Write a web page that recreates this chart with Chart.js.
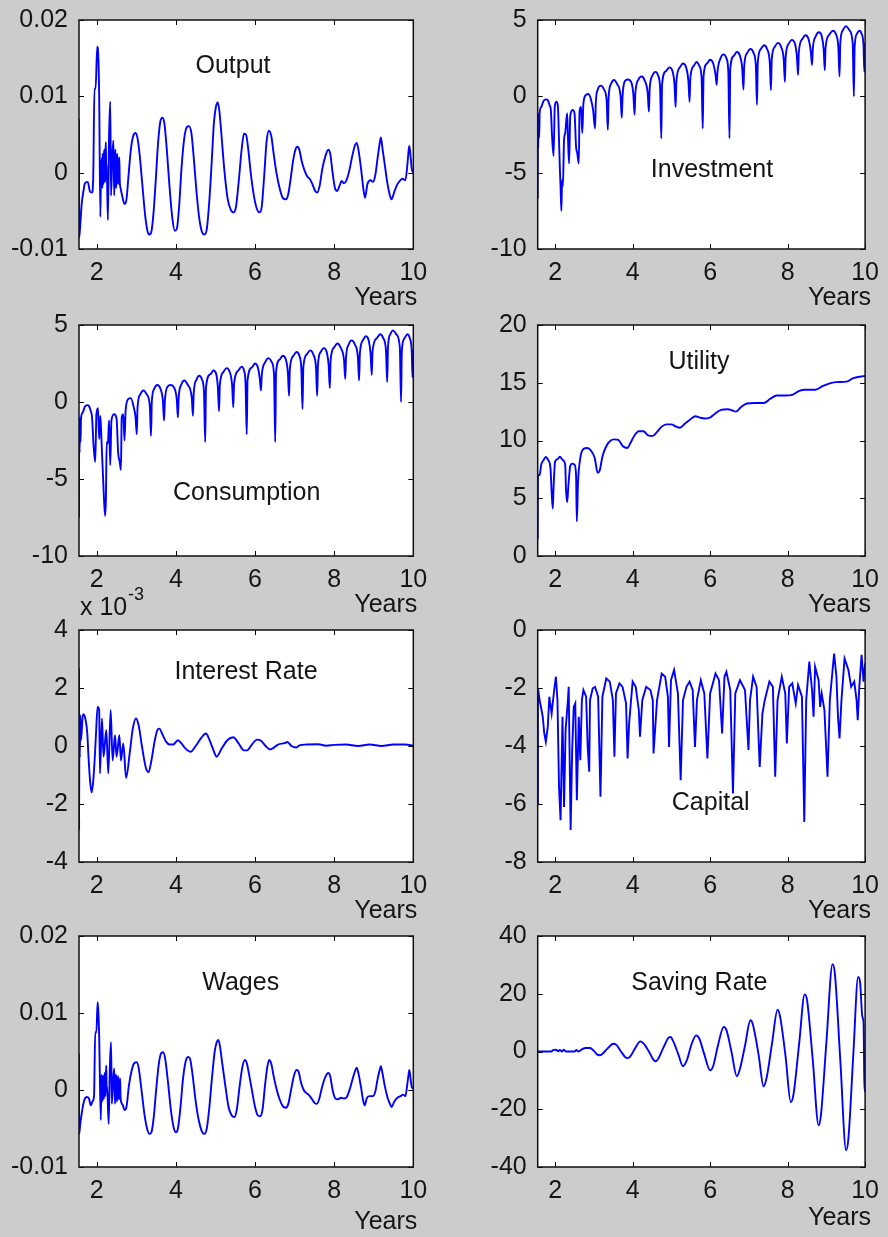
<!DOCTYPE html>
<html><head><meta charset="utf-8">
<script src="https://cdn.jsdelivr.net/npm/chart.js@4.4.0/dist/chart.umd.min.js"></script>
<style>
html,body{margin:0;padding:0;background:#cccccc;}
#wrap{position:relative;width:888px;height:1237px;overflow:hidden;background:#cccccc;}
#wrap canvas{position:absolute;}
</style></head><body><div id="wrap"></div>
<script>
// ---------- data (x in years, y) ----------
const xTicks = [2, 4, 6, 8, 10];

const outputPts = [[1.55,0.0070],[1.555,-0.0085],[1.58,-0.0070],[1.62,-0.0040],[1.66,-0.0025],[1.70,-0.0014],[1.77,-0.0012],[1.83,-0.0025],[1.88,-0.0026],[1.91,-0.0005],[1.94,0.0110],[1.97,0.0110],[2.01,0.0165],[2.04,0.0150],[2.06,0.0100],[2.09,-0.0058],[2.11,0.0017],[2.12,-0.0012],[2.13,0.0020],[2.14,-0.0020],[2.15,0.0025],[2.16,-0.0005],[2.17,-0.0015],[2.18,0.0022],[2.19,0.0030],[2.20,-0.0012],[2.21,-0.0010],[2.22,0.0028],[2.23,0.0040],[2.24,-0.0005],[2.25,0.0010],[2.28,-0.0062],[2.31,0.0048],[2.34,0.0093],[2.36,-0.0030],[2.39,0.0020],[2.42,0.0042],[2.44,-0.0030],[2.46,0.0015],[2.47,0.0030],[2.48,-0.0005],[2.49,-0.0020],[2.51,0.0018],[2.52,0.0025],[2.53,-0.0010],[2.54,-0.0015],[2.56,0.0015],[2.57,0.0020],[2.58,-0.0010],[2.60,-0.0020],[2.64,-0.0030],[2.70,-0.0041],[2.75,-0.0035],[2.80,-0.0005],[2.86,0.0030],[2.92,0.0048],[2.98,0.0052],[3.03,0.0045],[3.08,0.0025],[3.15,-0.0015],[3.22,-0.0055],[3.28,-0.0076],[3.33,-0.0081],[3.38,-0.0077],[3.43,-0.0055],[3.49,-0.0010],[3.55,0.0040],[3.61,0.0068],[3.66,0.0072],[3.71,0.0064],[3.77,0.0030],[3.84,-0.0020],[3.91,-0.0060],[3.97,-0.0076],[4.02,-0.0074],[4.08,-0.0045],[4.14,0.0005],[4.21,0.0045],[4.28,0.0060],[4.33,0.0061],[4.39,0.0052],[4.45,0.0020],[4.52,-0.0025],[4.59,-0.0060],[4.66,-0.0078],[4.72,-0.0081],[4.78,-0.0074],[4.84,-0.0040],[4.90,0.0010],[4.96,0.0065],[5.01,0.0086],[5.06,0.0092],[5.10,0.0080],[5.15,0.0050],[5.23,0.0000],[5.31,-0.0035],[5.39,-0.0049],[5.46,-0.0052],[5.52,-0.0044],[5.59,-0.0010],[5.66,0.0030],[5.72,0.0051],[5.77,0.0050],[5.83,0.0030],[5.89,0.0000],[5.97,-0.0030],[6.05,-0.0048],[6.11,-0.0052],[6.17,-0.0044],[6.23,-0.0005],[6.29,0.0040],[6.35,0.0055],[6.41,0.0048],[6.47,0.0025],[6.54,0.0000],[6.62,-0.0020],[6.70,-0.0033],[6.78,-0.0035],[6.84,-0.0028],[6.90,-0.0008],[6.96,0.0015],[7.02,0.0030],[7.07,0.0034],[7.12,0.0030],[7.18,0.0015],[7.25,0.0003],[7.32,-0.0005],[7.38,-0.0008],[7.45,-0.0015],[7.52,-0.0024],[7.57,-0.0026],[7.63,-0.0018],[7.70,0.0005],[7.78,0.0022],[7.85,0.0030],[7.90,0.0025],[7.96,0.0000],[8.02,-0.0020],[8.08,-0.0024],[8.13,-0.0018],[8.19,-0.0011],[8.25,-0.0014],[8.31,-0.0010],[8.38,0.0002],[8.45,0.0020],[8.52,0.0035],[8.57,0.0039],[8.62,0.0028],[8.68,0.0005],[8.74,-0.0022],[8.78,-0.0033],[8.84,-0.0015],[8.92,-0.0010],[8.98,-0.0012],[9.04,-0.0003],[9.10,0.0020],[9.15,0.0038],[9.18,0.0046],[9.22,0.0032],[9.28,0.0010],[9.34,-0.0012],[9.40,-0.0028],[9.45,-0.0035],[9.52,-0.0025],[9.60,-0.0015],[9.67,-0.0010],[9.73,-0.0008],[9.80,-0.0010],[9.85,0.0010],[9.88,0.0028],[9.90,0.0035],[9.93,0.0022],[9.96,0.0005],[10.0,0.0000]];

const investmentPts = [[1.55,-6.7],[1.555,-1.1],[1.565,-3.4],[1.575,-1.3],[1.59,-2.7],[1.60,-1.1],[1.64,-0.7],[1.70,-0.3],[1.76,-0.2],[1.81,-0.25],[1.86,-0.6],[1.89,-0.9],[1.92,-2.6],[1.96,-3.9],[1.99,-0.7],[2.03,-0.35],[2.07,-0.6],[2.10,-2.85],[2.12,-4.6],[2.14,-5.9],[2.16,-7.5],[2.18,-5.5],[2.20,-5.9],[2.23,-2.85],[2.26,-2.4],[2.31,-1.1],[2.33,-2.6],[2.36,-4.4],[2.39,-1.3],[2.45,-0.9],[2.50,-1.1],[2.54,-3.3],[2.57,-3.7],[2.61,-4.4],[2.63,-1.0],[2.67,-0.7],[2.70,-2.4],[2.73,-0.45],[2.80,0.1],[2.86,0.15],[2.93,-0.25],[2.98,-0.9],[3.03,-2.1],
[3.05,-0.4],[3.10,0.45],[3.18,0.7],[3.26,0.45],[3.33,-0.3],[3.36,-2.2],
[3.38,-0.1],[3.44,0.8],[3.52,1.07],[3.60,0.8],[3.69,0.0],[3.72,-1.4],
[3.74,0.0],[3.80,1.0],[3.88,1.1],[3.96,0.95],[4.02,0.1],[4.05,-1.2],
[4.07,0.2],[4.15,1.1],[4.23,1.3],[4.31,1.05],[4.39,0.2],[4.42,-1.0],
[4.44,0.5],[4.51,1.35],[4.59,1.6],[4.66,1.35],[4.71,0.5],[4.74,-2.75],
[4.76,0.8],[4.86,1.65],[4.95,1.9],[5.03,1.65],[5.08,0.8],[5.11,-0.7],
[5.13,1.0],[5.22,1.9],[5.30,2.15],[5.38,1.9],[5.44,1.0],[5.47,-0.35],
[5.49,1.2],[5.58,2.0],[5.65,2.25],[5.72,2.0],[5.78,1.2],[5.81,-2.1],
[5.83,1.3],[5.92,2.15],[6.00,2.4],[6.08,2.15],[6.14,1.4],[6.17,0.75],
[6.19,1.6],[6.27,2.5],[6.35,2.75],[6.42,2.5],[6.47,1.6],[6.50,-2.75],
[6.52,1.8],[6.61,2.65],[6.69,2.9],[6.77,2.65],[6.83,1.8],[6.86,0.45],
[6.88,2.0],[6.96,2.85],[7.04,3.1],[7.12,2.85],[7.18,2.0],[7.21,-0.55],
[7.23,2.2],[7.31,3.1],[7.39,3.35],[7.47,3.1],[7.54,2.2],[7.57,0.4],
[7.59,2.4],[7.67,3.25],[7.75,3.5],[7.83,3.25],[7.90,2.4],[7.93,0.95],
[7.95,2.6],[8.03,3.45],[8.11,3.7],[8.19,3.45],[8.24,2.6],[8.27,1.4],
[8.29,2.9],[8.38,3.75],[8.46,4.0],[8.54,3.75],[8.60,2.9],[8.63,2.05],
[8.65,3.1],[8.73,3.95],[8.81,4.2],[8.88,3.95],[8.93,3.1],[8.96,1.7],
[8.98,3.2],[9.08,4.05],[9.17,4.3],[9.25,4.05],[9.31,3.2],[9.34,1.3],
[9.36,3.5],[9.43,4.35],[9.51,4.6],[9.59,4.35],[9.68,3.5],[9.71,0.0],
[9.73,3.2],[9.79,4.1],[9.85,4.3],[9.91,4.1],[9.96,3.3],[9.98,1.6],[10.0,3.5]];

const consumptionPts = [[1.55,-7.5],[1.555,-1.0],[1.565,-3.3],[1.575,-1.2],[1.59,-2.6],[1.60,-1.1],[1.64,-0.7],[1.70,-0.3],[1.76,-0.2],[1.80,-0.25],[1.85,-0.6],[1.88,-1.0],[1.92,-2.9],[1.96,-3.9],[1.99,-0.8],[2.03,-0.4],[2.06,-2.4],[2.09,-0.9],[2.12,-2.6],[2.15,-4.4],[2.18,-6.2],[2.21,-7.4],[2.23,-6.3],[2.25,-2.6],[2.28,-2.7],[2.31,-1.2],[2.34,-4.1],[2.37,-1.2],[2.44,-0.8],[2.50,-1.1],[2.54,-3.3],[2.58,-3.9],[2.61,-4.4],[2.63,-1.0],[2.67,-0.8],[2.70,-2.5],[2.73,-0.5],[2.80,0.2],[2.86,0.25],[2.93,-0.3],[2.98,-1.0],[3.01,-2.1],
[3.03,-0.35],[3.10,0.5],[3.18,0.75],[3.26,0.5],[3.34,-0.25],[3.37,-2.2],
[3.39,0.0],[3.45,0.85],[3.53,1.1],[3.61,0.85],[3.67,0.1],[3.70,-1.2],
[3.72,0.05],[3.79,1.0],[3.87,1.1],[3.95,0.95],[4.02,0.2],[4.05,-1.0],
[4.07,0.3],[4.14,1.15],[4.21,1.4],[4.29,1.15],[4.40,0.3],[4.43,-0.9],
[4.45,0.6],[4.52,1.45],[4.59,1.7],[4.66,1.45],[4.71,0.6],[4.74,-2.6],
[4.76,0.95],[4.87,1.8],[4.95,2.05],[5.02,1.8],[5.06,0.95],[5.09,-0.6],
[5.11,1.1],[5.20,1.95],[5.28,2.2],[5.36,1.95],[5.42,1.1],[5.45,-0.35],
[5.47,1.2],[5.58,2.05],[5.66,2.3],[5.72,2.05],[5.76,1.2],[5.79,-2.1],
[5.81,1.4],[5.92,2.25],[6.00,2.5],[6.07,2.25],[6.12,1.5],[6.15,0.75],
[6.17,1.75],[6.26,2.6],[6.34,2.85],[6.42,2.6],[6.48,1.75],[6.51,-2.6],
[6.53,1.9],[6.62,2.75],[6.70,3.0],[6.78,2.75],[6.83,1.9],[6.86,0.4],
[6.88,2.15],[6.97,3.0],[7.05,3.25],[7.12,3.0],[7.17,2.15],[7.20,-0.45],
[7.22,2.25],[7.31,3.1],[7.39,3.35],[7.47,3.1],[7.54,2.25],[7.57,0.4],
[7.59,2.4],[7.66,3.25],[7.74,3.5],[7.81,3.25],[7.86,2.4],[7.89,0.9],
[7.91,2.7],[8.00,3.55],[8.08,3.8],[8.16,3.55],[8.25,2.7],[8.28,1.5],
[8.30,2.9],[8.37,3.75],[8.44,4.0],[8.52,3.75],[8.60,2.9],[8.63,1.4],
[8.65,3.15],[8.73,4.02],[8.80,4.27],[8.87,4.02],[8.92,3.15],[8.95,1.75],
[8.97,3.3],[9.08,4.15],[9.16,4.4],[9.24,4.15],[9.31,3.3],[9.34,1.3],
[9.36,3.55],[9.42,4.4],[9.49,4.65],[9.57,4.4],[9.66,3.55],[9.69,0.0],
[9.71,3.3],[9.78,4.15],[9.85,4.4],[9.91,4.15],[9.96,3.3],[9.98,1.6],[10.0,3.4]];

const utilityPts = [[1.55,1.45],[1.555,7.0],[1.60,7.0],[1.64,7.9],[1.70,8.3],[1.76,8.57],[1.82,8.3],[1.88,7.6],[1.91,5.5],[1.94,4.1],[1.96,6.0],[2.00,8.2],[2.07,8.4],[2.12,8.6],[2.20,8.3],[2.26,7.9],[2.28,5.8],[2.31,4.66],[2.34,6.0],[2.39,7.8],[2.44,8.0],[2.50,7.9],[2.54,7.0],[2.56,3.0],[2.59,6.3],[2.65,8.5],[2.74,9.3],[2.83,9.35],[2.93,9.1],[3.02,8.5],[3.10,7.2],[3.15,7.4],[3.22,8.6],[3.32,9.5],[3.42,9.95],[3.52,10.1],[3.63,10.05],[3.75,9.5],[3.86,9.35],[3.96,9.9],[4.06,10.5],[4.16,10.8],[4.28,10.8],[4.40,10.45],[4.52,10.4],[4.62,10.7],[4.75,11.2],[4.87,11.4],[5.00,11.4],[5.12,11.2],[5.22,11.1],[5.36,11.5],[5.48,11.8],[5.62,12.1],[5.72,12.0],[5.86,11.9],[5.98,11.95],[6.12,12.3],[6.28,12.65],[6.45,12.7],[6.58,12.6],[6.66,12.5],[6.80,12.9],[6.95,13.2],[7.15,13.25],[7.38,13.25],[7.55,13.6],[7.72,13.9],[7.95,13.9],[8.12,13.95],[8.30,14.3],[8.45,14.4],[8.72,14.4],[8.90,14.7],[9.05,14.9],[9.25,15.05],[9.52,15.1],[9.70,15.4],[10.0,15.6]];

// interest rate in units of 10^-3
const interestPts = [[1.55,2.67],[1.553,-2.9],[1.56,1.06],[1.57,-0.4],[1.585,1.06],[1.60,0.2],[1.65,1.1],[1.70,1.0],[1.76,0.43],[1.79,-0.37],[1.83,-1.2],[1.87,-1.6],[1.91,-1.2],[1.95,-0.37],[1.98,0.43],[2.02,1.35],[2.06,1.24],[2.08,-0.95],[2.13,0.95],[2.17,-0.37],[2.24,0.55],[2.29,-0.95],[2.35,1.24],[2.40,-0.5],[2.46,0.37],[2.50,-0.37],[2.57,0.37],[2.61,-0.5],[2.67,0.09],[2.74,-1.1],[2.84,-0.15],[2.91,0.6],[2.99,0.95],[3.06,0.7],[3.14,0.0],[3.24,-0.75],[3.31,-0.9],[3.38,-0.5],[3.46,0.15],[3.53,0.55],[3.58,0.6],[3.66,0.4],[3.75,0.15],[3.84,0.05],[3.93,0.05],[4.05,0.2],[4.12,0.12],[4.25,-0.1],[4.37,-0.2],[4.50,0.0],[4.65,0.3],[4.76,0.43],[4.85,0.2],[4.95,-0.15],[5.03,-0.37],[5.15,-0.1],[5.30,0.2],[5.45,0.3],[5.58,0.1],[5.72,-0.15],[5.80,-0.15],[5.92,0.05],[6.05,0.22],[6.15,0.18],[6.28,-0.02],[6.38,-0.12],[6.45,-0.08],[6.58,0.05],[6.75,0.1],[6.82,0.14],[6.92,0.0],[7.05,-0.05],[7.12,0.02],[7.30,0.05],[7.60,0.06],[7.80,0.01],[8.00,0.04],[8.30,0.05],[8.60,0.0],[8.90,0.05],[9.20,0.0],[9.50,0.05],[9.80,0.05],[10.0,0.02]];

const capitalPts = [[1.55,-6.0],[1.555,-2.0],[1.60,-2.42],[1.64,-2.70],[1.68,-2.99],[1.72,-3.57],[1.76,-3.85],[1.81,-3.34],[1.85,-2.30],[1.91,-2.88],[1.97,-2.13],[2.02,-1.61],[2.06,-2.42],[2.10,-5.41],[2.14,-6.56],[2.19,-2.99],[2.23,-6.10],[2.27,-3.45],[2.33,-2.42],[2.35,-1.96],[2.40,-6.90],[2.44,-4.14],[2.48,-2.65],[2.52,-2.53],[2.56,-5.87],[2.61,-2.99],[2.65,-4.49],[2.69,-2.42],[2.73,-2.07],[2.80,-2.30],[2.84,-4.03],[2.88,-4.89],[2.90,-2.42],[2.97,-2.01],[3.03,-1.96],[3.11,-2.30],[3.17,-5.75],[3.22,-2.30],[3.32,-1.67],[3.41,-1.78],[3.49,-2.42],[3.53,-4.37],[3.57,-2.19],[3.66,-1.84],[3.74,-1.96],[3.83,-2.53],[3.87,-4.43],[3.91,-3.22],[4.00,-1.78],[4.08,-1.96],[4.16,-2.76],[4.19,-3.68],[4.25,-2.42],[4.35,-1.96],[4.46,-2.07],[4.52,-2.42],[4.54,-4.26],[4.63,-2.42],[4.75,-1.50],[4.84,-1.61],[4.91,-2.30],[4.94,-4.03],[4.99,-1.73],[5.07,-1.38],[5.17,-2.19],[5.24,-5.18],[5.30,-2.42],[5.39,-1.96],[5.47,-1.78],[5.55,-2.07],[5.61,-4.03],[5.66,-2.42],[5.76,-1.73],[5.85,-2.19],[5.93,-4.43],[6.00,-2.19],[6.14,-1.50],[6.23,-1.73],[6.31,-3.57],[6.37,-1.61],[6.42,-1.44],[6.52,-2.07],[6.59,-5.64],[6.65,-2.19],[6.77,-1.73],[6.90,-2.07],[6.99,-4.14],[7.03,-2.42],[7.11,-1.61],[7.20,-1.96],[7.28,-4.72],[7.35,-2.88],[7.41,-2.42],[7.53,-1.78],[7.62,-1.96],[7.68,-5.06],[7.74,-2.42],[7.85,-1.61],[7.94,-2.19],[7.98,-3.91],[8.04,-1.96],[8.12,-1.84],[8.21,-2.53],[8.27,-1.90],[8.37,-2.30],[8.43,-6.62],[8.48,-2.42],[8.56,-1.09],[8.63,-2.07],[8.67,-2.99],[8.71,-1.27],[8.80,-1.73],[8.84,-2.65],[8.88,-2.19],[8.95,-2.76],[9.03,-5.06],[9.09,-2.42],[9.20,-0.81],[9.26,-1.61],[9.30,-2.99],[9.34,-3.74],[9.39,-2.42],[9.47,-0.98],[9.57,-1.38],[9.64,-1.96],[9.72,-1.78],[9.78,-2.42],[9.81,-3.11],[9.85,-1.96],[9.91,-0.86],[9.96,-1.78],[10.0,-1.15]];

const wagesPts = [[1.55,0.0047],[1.555,-0.0057],[1.58,-0.0045],[1.62,-0.0030],[1.66,-0.0018],[1.70,-0.0011],[1.75,-0.0009],[1.80,-0.0011],[1.85,-0.0020],[1.89,-0.0015],[1.93,-0.0008],[1.96,0.0075],[1.99,0.0075],[2.02,0.0114],[2.04,0.0101],[2.06,0.0070],[2.10,-0.0039],[2.12,0.0020],[2.13,-0.0008],[2.14,-0.0015],[2.15,0.0012],[2.16,0.0018],[2.17,-0.0004],[2.18,-0.0012],[2.19,0.0015],[2.20,0.0022],[2.21,-0.0006],[2.22,-0.0008],[2.23,0.0020],[2.24,0.0032],[2.25,-0.0002],[2.26,0.0005],[2.30,-0.0044],[2.33,0.0030],[2.36,0.0062],[2.38,-0.0018],[2.41,0.0010],[2.44,0.0028],[2.46,-0.0018],[2.48,0.0012],[2.49,0.0020],[2.50,-0.0006],[2.51,-0.0015],[2.53,0.0012],[2.54,0.0018],[2.55,-0.0006],[2.56,-0.0012],[2.58,0.0010],[2.59,0.0015],[2.60,-0.0008],[2.62,-0.0016],[2.66,-0.0020],[2.70,-0.0026],[2.75,-0.0022],[2.81,0.0005],[2.88,0.0025],[2.95,0.0035],[3.01,0.0036],[3.06,0.0028],[3.13,0.0000],[3.20,-0.0030],[3.27,-0.0050],[3.33,-0.0057],[3.38,-0.0055],[3.44,-0.0035],[3.50,0.0000],[3.57,0.0035],[3.63,0.0048],[3.68,0.0049],[3.73,0.0040],[3.80,0.0010],[3.87,-0.0025],[3.94,-0.0048],[4.00,-0.0055],[4.05,-0.0050],[4.11,-0.0025],[4.18,0.0015],[4.25,0.0038],[4.31,0.0043],[4.36,0.0040],[4.42,0.0020],[4.50,-0.0015],[4.58,-0.0040],[4.65,-0.0053],[4.72,-0.0057],[4.78,-0.0050],[4.84,-0.0025],[4.91,0.0015],[4.98,0.0050],[5.03,0.0062],[5.07,0.0065],[5.11,0.0058],[5.17,0.0035],[5.25,0.0005],[5.33,-0.0022],[5.41,-0.0033],[5.48,-0.0035],[5.54,-0.0025],[5.61,0.0005],[5.68,0.0030],[5.74,0.0039],[5.79,0.0035],[5.85,0.0020],[5.92,0.0000],[6.00,-0.0022],[6.07,-0.0033],[6.13,-0.0034],[6.19,-0.0025],[6.25,0.0005],[6.31,0.0030],[6.36,0.0039],[6.41,0.0034],[6.47,0.0018],[6.54,0.0002],[6.62,-0.0012],[6.70,-0.0021],[6.78,-0.0023],[6.84,-0.0018],[6.91,0.0000],[6.98,0.0018],[7.05,0.0026],[7.10,0.0024],[7.16,0.0010],[7.23,0.0000],[7.30,-0.0004],[7.37,-0.0007],[7.44,-0.0012],[7.51,-0.0017],[7.56,-0.0018],[7.62,-0.0012],[7.69,0.0003],[7.77,0.0016],[7.85,0.0022],[7.90,0.0018],[7.96,0.0000],[8.03,-0.0011],[8.10,-0.0012],[8.17,-0.0010],[8.25,-0.0011],[8.32,-0.0009],[8.40,0.0002],[8.47,0.0015],[8.53,0.0025],[8.57,0.0029],[8.62,0.0020],[8.68,0.0003],[8.73,-0.0013],[8.77,-0.0020],[8.83,-0.0010],[8.90,-0.0008],[8.98,-0.0008],[9.04,-0.0002],[9.10,0.0015],[9.15,0.0026],[9.18,0.0031],[9.22,0.0022],[9.28,0.0005],[9.35,-0.0010],[9.41,-0.0018],[9.45,-0.0022],[9.52,-0.0015],[9.60,-0.0010],[9.68,-0.0008],[9.74,-0.0006],[9.80,-0.0008],[9.85,0.0008],[9.88,0.0020],[9.90,0.0026],[9.93,0.0015],[9.96,0.0004],[10.0,0.0002]];

const savingPts = [[1.55,0.3],[1.56,0.0],[1.70,0.0],[1.90,0.0],[1.95,0.5],[2.02,0.6],[2.08,0.1],[2.12,0.5],[2.18,0.0],[2.22,0.6],[2.28,0.0],[2.40,0.0],[2.50,0.0],[2.55,0.5],[2.60,0.0],[2.70,0.8],[2.78,1.2],[2.90,1.2],[3.00,0.2],[3.08,-1.0],[3.15,-1.3],[3.22,-0.8],[3.35,1.0],[3.50,2.7],[3.58,2.3],[3.70,0.0],[3.80,-1.8],[3.87,-2.3],[3.95,-1.5],[4.08,1.5],[4.20,3.5],[4.28,2.8],[4.42,0.0],[4.52,-2.5],[4.59,-3.4],[4.66,-2.5],[4.80,1.5],[4.93,4.8],[4.98,5.0],[5.05,3.5],[5.18,-1.0],[5.30,-5.1],[5.40,-3.0],[5.52,2.5],[5.64,5.6],[5.72,4.5],[5.85,-1.0],[6.00,-6.5],[6.08,-5.0],[6.20,2.0],[6.35,8.5],[6.42,7.5],[6.55,0.0],[6.69,-8.6],[6.77,-6.0],[6.90,2.0],[7.04,10.8],[7.10,9.5],[7.25,-1.0],[7.38,-12.1],[7.46,-9.0],[7.60,3.0],[7.74,14.5],[7.80,12.5],[7.95,-2.0],[8.08,-17.5],[8.15,-15.0],[8.30,3.0],[8.44,19.8],[8.50,18.0],[8.65,-3.0],[8.80,-25.6],[8.86,-22.0],[9.00,3.0],[9.16,30.2],[9.22,27.0],[9.36,-3.0],[9.51,-34.2],[9.57,-30.0],[9.70,0.0],[9.82,25.8],[9.87,24.0],[9.93,12.0],[9.96,10.0],[9.98,-10.0],[10.0,-14.0]];

const outputTicks = [-0.01, 0, 0.01, 0.02];
const investmentTicks = [-10, -5, 0, 5];
const consumptionTicks = [-10, -5, 0, 5];
const utilityTicks = [0, 5, 10, 15, 20];
const interestTicks = [-4, -2, 0, 2, 4];
const capitalTicks = [-8, -6, -4, -2, 0];
const wagesTicks = [-0.01, 0, 0.01, 0.02];
const savingTicks = [-40, -20, 0, 20, 40];

// ---------- layout ----------
const FONT = '"Liberation Sans", Arial, sans-serif';
const colLeft = [0, 444];
const plotL = [79, 93.7];
const plotR = [413.3, 428.3];
const rowTop = [20, 325, 630, 936];
const rowBot = [249, 556, 862, 1167];
const CTOP = 45, CH = 346, CW = 444;

const panels = [
  {title:'Output', pts:outputPts, ticks:outputTicks, col:0,row:0, tx:233, ty:72.7, curve:true},
  {title:'Investment', pts:investmentPts, ticks:investmentTicks, col:1,row:0, tx:712, ty:176.7, curve:true},
  {title:'Consumption', pts:consumptionPts, ticks:consumptionTicks, col:0,row:1, tx:246.7, ty:500, curve:true},
  {title:'Utility', pts:utilityPts, ticks:utilityTicks, col:1,row:1, tx:699, ty:369, curve:true},
  {title:'Interest Rate', pts:interestPts, ticks:interestTicks, col:0,row:2, tx:246, ty:679, curve:true, expo:true},
  {title:'Capital', pts:capitalPts, ticks:capitalTicks, col:1,row:2, tx:710.7, ty:810, curve:false},
  {title:'Wages', pts:wagesPts, ticks:wagesTicks, col:0,row:3, tx:240.7, ty:989.7, curve:true},
  {title:'Saving Rate', pts:savingPts, ticks:savingTicks, col:1,row:3, tx:699.3, ty:990.3, curve:true}
];

const deco = {
  id:'deco',
  beforeDatasetsDraw(chart){
    const a = chart.chartArea, ctx = chart.ctx;
    ctx.save(); ctx.fillStyle = '#ffffff';
    ctx.fillRect(a.left, a.top, a.right-a.left, a.bottom-a.top);
    ctx.restore();
  },
  afterDraw(chart){
    const p = chart.options.plugins.deco;
    const ctx = chart.ctx, a = chart.chartArea;
    const xs = chart.scales.x, ys = chart.scales.y;
    ctx.save();
    ctx.strokeStyle = '#000000'; ctx.lineWidth = 1;
    const TL = 5;
    ctx.beginPath();
    xTicks.forEach(v=>{
      const px = Math.round(xs.getPixelForValue(v)) + 0.5;
      ctx.moveTo(px, a.bottom); ctx.lineTo(px, a.bottom-TL);
      ctx.moveTo(px, a.top); ctx.lineTo(px, a.top+TL);
    });
    p.ticks.forEach(v=>{
      const py = Math.round(ys.getPixelForValue(v)) + 0.5;
      ctx.moveTo(a.left, py); ctx.lineTo(a.left+TL, py);
      ctx.moveTo(a.right, py); ctx.lineTo(a.right-TL, py);
    });
    ctx.stroke();
    ctx.lineWidth = 1.5; ctx.strokeStyle = '#111111';
    ctx.strokeRect(a.left, a.top, a.right-a.left, a.bottom-a.top);
    ctx.fillStyle = '#151515';
    ctx.font = '25px ' + FONT;
    ctx.textAlign = 'center'; ctx.textBaseline = 'alphabetic';
    ctx.fillText(p.title, p.tx, p.ty);
    ctx.font = '25px ' + FONT;
    ctx.textAlign = 'right';
    ctx.fillText('Years', a.right + p.yrsDx, a.bottom + p.yrsDy);
    if (p.expo){
      ctx.textAlign = 'left';
      ctx.font = '25px ' + FONT;
      ctx.fillText('x 10', a.left + 1, a.top - 15);
      ctx.font = '18px ' + FONT;
      ctx.fillText('-3', a.left + 49, a.top - 30);
    }
    ctx.restore();
  }
};

const wrap = document.getElementById('wrap');
panels.forEach(pn=>{
  const cv = document.createElement('canvas');
  const top = rowTop[pn.row] - CTOP;
  cv.width = CW; cv.height = CH;
  cv.style.width = CW+'px'; cv.style.height = CH+'px';
  cv.style.left = colLeft[pn.col]+'px'; cv.style.top = top+'px';
  wrap.appendChild(cv);
  const plotH = rowBot[pn.row] - rowTop[pn.row];
  const ticks = pn.ticks;
  new Chart(cv.getContext('2d'), {
    type:'line',
    data:{datasets:[{
      data: pn.pts.map(p=>({x:p[0], y:p[1]})),
      borderColor:'#0000ff', borderWidth:1.9, pointRadius:0, fill:false,
      cubicInterpolationMode: pn.curve ? 'monotone' : 'default', tension:0
    }]},
    options:{
      responsive:false, animation:false, devicePixelRatio:1,
      layout:{padding:{top:CTOP, left:0, bottom:0, right:CW - plotR[pn.col]}},
      plugins:{legend:{display:false}, tooltip:{enabled:false},
        deco:{title:pn.title, ticks:ticks, tx:pn.tx - colLeft[pn.col], ty:pn.ty - top,
              yrsDx: pn.col===0 ? 4 : 6, yrsDy: pn.row===3 ? (pn.col===0 ? 62 : 58) : 56, expo:!!pn.expo}},
      scales:{
        x:{type:'linear', min:1.55, max:10,
           afterBuildTicks:s=>{s.ticks = xTicks.map(v=>({value:v}));},
           afterFit:s=>{s.height = CH - CTOP - plotH;},
           grid:{display:false, drawTicks:false}, border:{display:false},
           ticks:{padding:9, color:'#151515', font:{family:FONT, size:25}, maxRotation:0, autoSkip:false,
                  callback:v=>String(v)}},
        y:{type:'linear', min:ticks[0], max:ticks[ticks.length-1],
           afterBuildTicks:s=>{s.ticks = ticks.map(v=>({value:v}));},
           afterFit:s=>{s.width = plotL[pn.col];},
           grid:{display:false, drawTicks:false}, border:{display:false},
           ticks:{padding:11, color:'#151515', font:{family:FONT, size:25}, autoSkip:false,
                  callback:v=>String(v)}}
      }
    },
    plugins:[deco]
  });
});
</script></body></html>
